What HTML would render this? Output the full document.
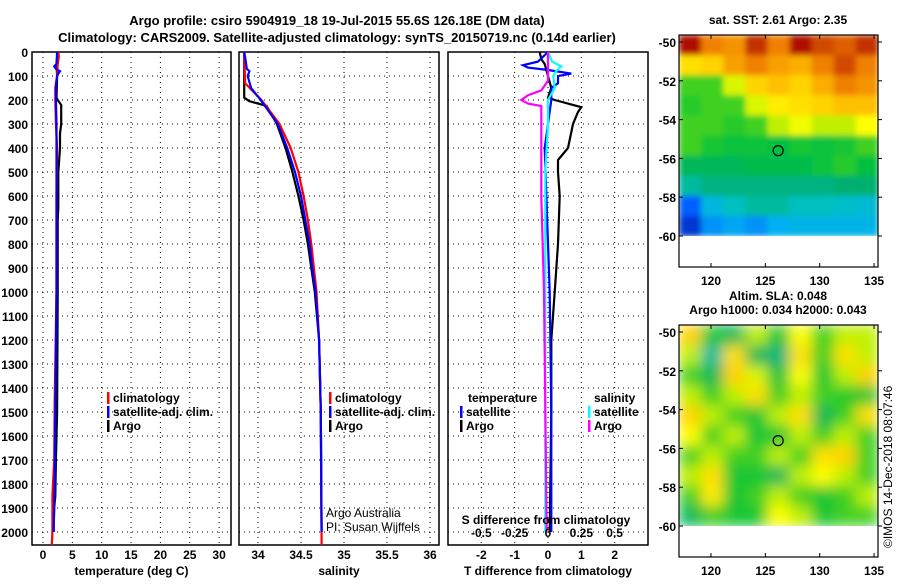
<!DOCTYPE html>
<html><head><meta charset="utf-8">
<style>
body{margin:0;background:#fff;}
svg text{font-family:"Liberation Sans",sans-serif;font-weight:bold;font-size:12px;fill:#000;}
</style></head>
<body>
<svg id="c" width="900" height="580" xmlns="http://www.w3.org/2000/svg">
<defs>
<filter id="blurS" x="0" y="0" width="1" height="1"><feGaussianBlur stdDeviation="3" edgeMode="duplicate"/></filter>
<filter id="blurL" x="0" y="0" width="1" height="1"><feGaussianBlur stdDeviation="7" edgeMode="duplicate"/></filter>
<clipPath id="clip1"><rect x="679" y="35" width="199" height="201"/></clipPath>
<clipPath id="clip2"><rect x="679" y="325" width="199" height="201"/></clipPath>
</defs>
<rect width="900" height="580" fill="#fff"/>
<text x="337" y="25" text-anchor="middle" style="font-size:13px">Argo profile: csiro 5904919_18 19-Jul-2015 55.6S 126.18E (DM data)</text>
<text x="337" y="42" text-anchor="middle" style="font-size:13px">Climatology: CARS2009. Satellite-adjusted climatology: synTS_20150719.nc (0.14d earlier)</text>
<g id="g"></g>
</svg>
<script>
// ---- profile data ----
const depthLabels=[0,100,200,300,400,500,600,700,800,900,1000,1100,1200,1300,1400,1500,1600,1700,1800,1900,2000];
const tempTicks=[0,5,10,15,20,25,30];
const salTicks=[34,34.5,35,35.5,36];
const tdiffTicks=[-2,-1,0,1,2];
const sdiffTicks=[-0.5,-0.25,0,0.25,0.5];
const sdiffLabels=["-0.5","-0.25","0","0.25","0.5"];

const tArgoD=[0,50,100,190,200,220,300,340,400,500,650,700,1000,1500,1700,1850,1900,2000];
const tArgoV=[2.5,2.3,2.4,2.3,2.5,3.1,3.1,2.9,2.9,2.6,2.6,2.5,2.5,2.4,2.2,2.1,1.9,1.8];
const tClimD=[0,20,50,100,150,200,300,400,600,1000,1450,1700,1850,2000,2054];
const tClimV=[2.6,2.7,2.5,2.4,2.1,2.1,2.2,2.4,2.3,2.3,2.0,1.9,1.6,1.6,1.5];
const tSatD=[0,50,60,70,80,90,100,140,200,300,600,1000,1500,1800,2000];
const tSatV=[2.4,2.3,1.9,2.2,2.9,2.6,2.4,2.2,2.2,2.3,2.3,2.3,2.1,2.0,1.8];

const sArgoD=[0,190,205,215,225,300,400,500,600,700,800,900,1000,1200,1500,2000];
const sArgoV=[33.84,33.84,33.9,34.0,34.1,34.22,34.32,34.4,34.47,34.53,34.58,34.62,34.66,34.71,34.73,34.74];
const sClimD=[0,130,160,200,300,400,500,600,700,800,900,1000,1200,1500,2054];
const sClimV=[33.84,33.85,33.93,34.04,34.25,34.38,34.47,34.53,34.58,34.62,34.65,34.68,34.71,34.73,34.74];
const sSatD=[0,20,70,80,100,150,200,300,400,500,600,700,800,900,1000,1200,1500,2000];
const sSatV=[33.84,33.85,33.87,33.9,33.88,33.92,34.03,34.23,34.34,34.43,34.5,34.55,34.6,34.63,34.67,34.71,34.73,34.74];

const dTArgoD=[0,30,50,100,150,190,200,230,250,300,400,450,500,600,800,1000,1200,1500,2000];
const dTArgoV=[-0.25,-0.2,-0.1,0,0.1,0,0.2,1.0,0.9,0.75,0.6,0.3,0.3,0.35,0.3,0.2,0.1,0.1,0.05];
const dTSatD=[0,40,55,65,75,90,100,130,150,200,300,400,1000,1500,2000];
const dTSatV=[0,-0.3,-0.75,-0.6,0,0.7,0.3,0.3,0.1,0.1,0,-0.1,0.05,0.1,0.1];
const dSSatD=[0,40,60,80,100,150,200,300,500,1000,2000];
const dSSatV=[0,0.03,0.1,0.06,0.04,0.05,0.0,0,-0.02,-0.02,-0.02];
const dSArgoD=[0,120,160,180,200,215,225,300,600,1000,2000];
const dSArgoV=[0,0,-0.05,-0.15,-0.2,-0.15,-0.05,-0.05,-0.05,-0.03,-0.01];

// ---- map data (0..1 colour index), rows lat -50..-59, cols lon 118..134 ----
const sstGrid=[
[0.95,0.85,0.82,0.92,0.85,0.95,0.9,0.88,0.92],
[0.7,0.72,0.8,0.85,0.8,0.78,0.85,0.9,0.85],
[0.55,0.55,0.62,0.72,0.75,0.72,0.78,0.85,0.82],
[0.52,0.55,0.55,0.62,0.68,0.7,0.72,0.75,0.75],
[0.55,0.55,0.52,0.55,0.6,0.64,0.6,0.6,0.65],
[0.55,0.5,0.48,0.48,0.47,0.5,0.48,0.5,0.55],
[0.45,0.45,0.45,0.46,0.46,0.46,0.48,0.52,0.47],
[0.4,0.42,0.42,0.42,0.42,0.42,0.42,0.43,0.43],
[0.25,0.35,0.38,0.4,0.4,0.38,0.38,0.37,0.36],
[0.2,0.3,0.32,0.3,0.33,0.34,0.34,0.34,0.34]];
const slaGrid=[
[0.72,0.5,0.45,0.6,0.5,0.65,0.55,0.6,0.6],
[0.6,0.4,0.7,0.45,0.42,0.7,0.55,0.7,0.6],
[0.55,0.45,0.72,0.62,0.48,0.65,0.5,0.6,0.72],
[0.6,0.55,0.6,0.7,0.55,0.6,0.55,0.52,0.5],
[0.72,0.6,0.55,0.5,0.6,0.7,0.45,0.55,0.7],
[0.65,0.55,0.6,0.5,0.5,0.6,0.55,0.6,0.55],
[0.55,0.6,0.55,0.55,0.6,0.55,0.7,0.72,0.55],
[0.6,0.7,0.5,0.5,0.45,0.6,0.65,0.6,0.55],
[0.55,0.68,0.5,0.55,0.6,0.55,0.5,0.55,0.6],
[0.45,0.55,0.5,0.5,0.65,0.6,0.5,0.55,0.55]];
const mapLonTicks=[120,125,130,135];
const mapLatTicks=[-50,-52,-54,-56,-58,-60];
const floatLon=126.18, floatLat=-55.6;

const NS="http://www.w3.org/2000/svg";
const G=document.getElementById('g');
function el(tag,attrs,parent){const e=document.createElementNS(NS,tag);for(const k in attrs)e.setAttribute(k,attrs[k]);(parent||G).appendChild(e);return e;}
function txt(x,y,s,anchor,parent){const t=el('text',{x:x,y:y,'text-anchor':anchor||'start'},parent);t.textContent=s;return t;}

const top0=52, pxPerM=0.24, bot=545;
const yD=d=>top0+d*pxPerM;
function panel(name,x0,x1,xs,xticks,xlabels,xtitle,showDepth){
  const g=el('g',{});
  
  
  depthLabels.forEach(d=>{
    el('line',{x1:x0,x2:x1,y1:yD(d),y2:yD(d),stroke:'#000','stroke-dasharray':'1,4','stroke-width':1},g);
    if(showDepth){const t=txt(28,yD(d)+5,String(d),'end',g);
      
      }
  });
  xticks.forEach((v,i)=>{
    el('line',{x1:xs(v),x2:xs(v),y1:top0,y2:bot,stroke:'#000','stroke-dasharray':'1,4','stroke-width':1},g);
    if(xlabels){const t=txt(xs(v),559,xlabels[i],'middle',g);
      
      }
  });
  el('rect',{x:x0,y:top0,width:x1-x0,height:bot-top0,fill:'none',stroke:'#000','stroke-width':1.5},g);
  const t=txt((x0+x1)/2,575,xtitle,'middle',g);
  
  
  return g;
}
function line(g,name,D,V,xs,color){
  const pts=D.map((d,i)=>xs(V[i]).toFixed(1)+','+yD(d).toFixed(1)).join(' ');
  const p=el('polyline',{points:pts,fill:'none',stroke:color,'stroke-width':2.2},g);
  
  
}
function legend(g,x,y,items){
  items.forEach((it,i)=>{
    el('rect',{x:x,y:y+i*14-10,width:2.5,height:12,fill:it[1]},g);
    const t=txt(x+6,y+i*14,it[0],'start',g);
    
    
  });
}
// temperature
const xT=v=>43+v*5.87;
const p1=panel('temperature-panel',32,231,xT,tempTicks,tempTicks.map(String),'temperature (deg C)',true);
line(p1,'argo-temperature-line',tArgoD,tArgoV,xT,'#000');
line(p1,'clim-temperature-line',tClimD,tClimV,xT,'#f00');
line(p1,'satellite-temperature-line',tSatD,tSatV,xT,'#00f');
legend(p1,107,402,[['climatology','#f00'],['satellite-adj. clim.','#00f'],['Argo','#000']]);
// salinity
const xS=v=>258+(v-34)*86;
const p2=panel('salinity-panel',239,439,xS,salTicks,salTicks.map(String),'salinity',false);
line(p2,'argo-salinity-line',sArgoD,sArgoV,xS,'#000');
line(p2,'clim-salinity-line',sClimD,sClimV,xS,'#f00');
line(p2,'satellite-salinity-line',sSatD,sSatV,xS,'#00f');
legend(p2,329,402,[['climatology','#f00'],['satellite-adj. clim.','#00f'],['Argo','#000']]);
const cr=el('g',{},p2);


[['Argo Australia',517],['PI: Susan Wijffels',531]].forEach(a=>{const t=txt(326,a[1],a[0],'start',cr);t.setAttribute('style','font-weight:normal');});
// difference
const xdT=v=>548+v*33.33;
const xdS=v=>548+v*133.3;
const p3=panel('difference-panel',448,648,xdT,tdiffTicks,tdiffTicks.map(String),'T difference from climatology',false);
line(p3,'argo-t-diff-line',dTArgoD,dTArgoV,xdT,'#000');
line(p3,'satellite-t-diff-line',dTSatD,dTSatV,xdT,'#00f');
line(p3,'satellite-s-diff-line',dSSatD,dSSatV,xdS,'#0ff');
line(p3,'argo-s-diff-line',dSArgoD,dSArgoV,xdS,'#f0f');
const lt=txt(468,402,'temperature','start',p3);
const ls=txt(594,402,'salinity','start',p3);
legend(p3,460,416,[['satellite','#00f'],['Argo','#000']]);
legend(p3,588,416,[['satellite','#0ff'],['Argo','#f0f']]);
const st=txt(546,524,'S difference from climatology','middle',p3);
sdiffTicks.forEach((v,i)=>{const t=txt(xdS(v),537,sdiffLabels[i],'middle',p3);
  
  });

// ---- maps ----
const pal=[[0.15,[0,16,160]],[0.25,[0,96,255]],[0.33,[0,176,240]],[0.38,[0,192,192]],[0.43,[0,176,112]],[0.47,[0,192,64]],[0.55,[64,208,32]],[0.6,[192,240,0]],[0.65,[255,255,0]],[0.75,[255,192,0]],[0.85,[240,128,0]],[0.95,[176,16,0]]];
function col(v){
  if(v<=pal[0][0])return 'rgb('+pal[0][1]+')';
  for(let i=1;i<pal.length;i++){if(v<=pal[i][0]){const a=pal[i-1],b=pal[i],f=(v-a[0])/(b[0]-a[0]);
    return 'rgb('+a[1].map((c,k)=>Math.round(c+(b[1][k]-c)*f)).join(',')+')';}}
  return 'rgb('+pal[pal.length-1][1]+')';
}
function map(name,top,grid,title1,title2,filt,clip){
  const g=el('g',{});
  
  
  const L=679,R=878,B=top+232;
  const lon=v=>711+(v-120)*10.87;
  const lat=v=>top+7+(-50-v)*19.4;
  const nr=grid.length,nc=grid[0].length;
  const cw=(R-L)/nc, rh=(lat(-60)-top)/nr;
  const cg0=el('g',{'clip-path':'url(#'+clip+')'},g);
  const cg=el('g',{filter:'url(#'+filt+')'},cg0);
  grid.forEach((row,i)=>row.forEach((v,j)=>{
    const r=el('rect',{x:(L+j*cw).toFixed(2),y:(top+i*rh).toFixed(2),width:(cw+0.5).toFixed(2),height:(rh+0.5).toFixed(2),fill:col(v)},cg);
    
    
  }));
  el('rect',{x:L,y:lat(-60),width:R-L,height:B-lat(-60),fill:'#fff'},g);
  el('rect',{x:L,y:top,width:R-L,height:B-top,fill:'none',stroke:'#000','stroke-width':1.2},g);
  mapLonTicks.forEach(v=>{el('line',{x1:lon(v),x2:lon(v),y1:top,y2:top+4,stroke:'#000'},g);el('line',{x1:lon(v),x2:lon(v),y1:B,y2:B-4,stroke:'#000'},g);
    const t=txt(lon(v),B+18,String(v),'middle',g);});
  mapLatTicks.forEach(v=>{el('line',{x1:L,x2:L+4,y1:lat(v),y2:lat(v),stroke:'#000'},g);el('line',{x1:R,x2:R+4,y1:lat(v),y2:lat(v),stroke:'#000'},g);
    const t=txt(L-3,lat(v)+5,String(v),'end',g);});
  const c=el('circle',{cx:lon(floatLon),cy:lat(floatLat),r:5,fill:'none',stroke:'#000','stroke-width':1.2},g);
  
  
  const t1=txt(778,top-11-(title2?14:0),title1,'middle',g);
  if(title2){const t2=txt(778,top-11,title2,'middle',g);}
}
map('sst-map',35,sstGrid,'sat. SST: 2.61 Argo: 2.35',null,'blurS','clip1');
map('sla-map',325,slaGrid,'Altim. SLA: 0.048','Argo h1000: 0.034 h2000: 0.043','blurL','clip2');
const stamp=el('text',{x:0,y:0,transform:'translate(892,548) rotate(-90)',style:'font-weight:normal'});
stamp.textContent='©IMOS 14-Dec-2018 08:07:46';


</script>
</body></html>
